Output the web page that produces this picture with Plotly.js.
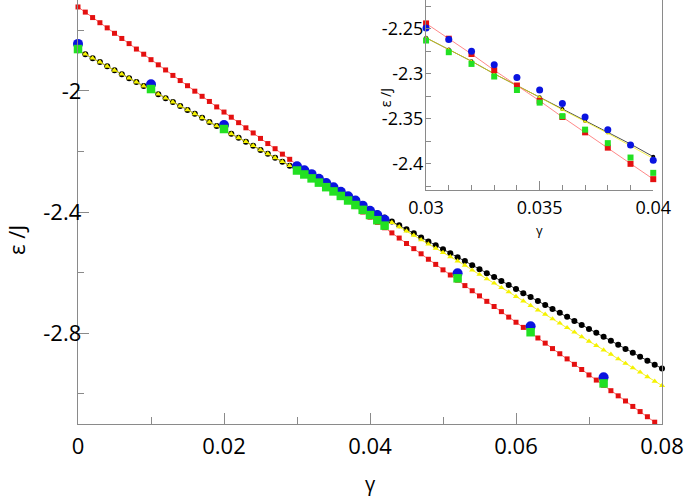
<!DOCTYPE html>
<html>
<head>
<meta charset="utf-8">
<script src="https://cdn.plot.ly/plotly-3.0.1.min.js"></script>
<style>
  html, body { margin: 0; padding: 0; background: #fff; }
  #graph { width: 685px; height: 496px; }
</style>
</head>
<body>
<div id="graph"></div>
<script>
// gamma grid of the curves (0 .. 0.08, step 0.001)
const gamma = [
  0, 0.001, 0.002, 0.003, 0.004, 0.005, 0.006, 0.007, 0.008, 0.009,
  0.010, 0.011, 0.012, 0.013, 0.014, 0.015, 0.016, 0.017, 0.018, 0.019,
  0.020, 0.021, 0.022, 0.023, 0.024, 0.025, 0.026, 0.027, 0.028, 0.029,
  0.030, 0.031, 0.032, 0.033, 0.034, 0.035, 0.036, 0.037, 0.038, 0.039,
  0.040, 0.041, 0.042, 0.043, 0.044, 0.045, 0.046, 0.047, 0.048, 0.049,
  0.050, 0.051, 0.052, 0.053, 0.054, 0.055, 0.056, 0.057, 0.058, 0.059,
  0.060, 0.061, 0.062, 0.063, 0.064, 0.065, 0.066, 0.067, 0.068, 0.069,
  0.070, 0.071, 0.072, 0.073, 0.074, 0.075, 0.076, 0.077, 0.078, 0.079,
  0.080
];

// red squares (0 .. 0.079)
const redE = [
  -1.723, -1.740, -1.758, -1.775, -1.792, -1.810, -1.827, -1.844, -1.862, -1.879,
  -1.897, -1.914, -1.931, -1.949, -1.966, -1.983, -2.001, -2.018, -2.035, -2.053,
  -2.070, -2.087, -2.105, -2.122, -2.139, -2.157, -2.174, -2.191, -2.209, -2.226,
  -2.244, -2.261, -2.278, -2.296, -2.313, -2.330, -2.348, -2.365, -2.382, -2.400,
  -2.417, -2.434, -2.452, -2.469, -2.486, -2.504, -2.521, -2.538, -2.556, -2.573,
  -2.591, -2.608, -2.625, -2.643, -2.660, -2.677, -2.695, -2.712, -2.729, -2.747,
  -2.764, -2.781, -2.799, -2.816, -2.833, -2.851, -2.868, -2.885, -2.903, -2.920,
  -2.938, -2.955, -2.972, -2.990, -3.007, -3.024, -3.042, -3.059, -3.076, -3.094
];

// black circles
const blackE = [
  -1.866, -1.879, -1.892, -1.905, -1.919, -1.932, -1.945, -1.958, -1.971, -1.984,
  -1.997, -2.011, -2.024, -2.037, -2.050, -2.063, -2.076, -2.089, -2.103, -2.116,
  -2.129, -2.142, -2.155, -2.168, -2.181, -2.195, -2.208, -2.221, -2.234, -2.247,
  -2.260, -2.273, -2.286, -2.300, -2.313, -2.326, -2.339, -2.352, -2.365, -2.378,
  -2.392, -2.405, -2.418, -2.431, -2.444, -2.457, -2.470, -2.484, -2.497, -2.510,
  -2.523, -2.536, -2.549, -2.562, -2.576, -2.589, -2.602, -2.615, -2.628, -2.641,
  -2.654, -2.668, -2.681, -2.694, -2.707, -2.720, -2.733, -2.746, -2.760, -2.773,
  -2.786, -2.799, -2.812, -2.825, -2.838, -2.852, -2.865, -2.878, -2.891, -2.904,
  -2.917
];

// yellow triangles
const yellowE = [
  -1.866, -1.879, -1.892, -1.905, -1.919, -1.932, -1.945, -1.958, -1.971, -1.984,
  -1.997, -2.011, -2.024, -2.037, -2.050, -2.063, -2.076, -2.089, -2.103, -2.116,
  -2.129, -2.142, -2.155, -2.168, -2.181, -2.195, -2.208, -2.221, -2.234, -2.247,
  -2.260, -2.273, -2.286, -2.300, -2.313, -2.326, -2.340, -2.353, -2.366, -2.380,
  -2.394, -2.407, -2.421, -2.435, -2.449, -2.463, -2.477, -2.492, -2.506, -2.520,
  -2.534, -2.548, -2.562, -2.576, -2.592, -2.606, -2.621, -2.635, -2.650, -2.664,
  -2.679, -2.694, -2.709, -2.724, -2.738, -2.753, -2.767, -2.782, -2.797, -2.812,
  -2.827, -2.841, -2.856, -2.870, -2.885, -2.900, -2.915, -2.929, -2.944, -2.959,
  -2.973
];

// blue circles and green squares
const gammaPts = [0, 0.01, 0.02, 0.030, 0.031, 0.032, 0.033, 0.034, 0.035, 0.036,
  0.037, 0.038, 0.039, 0.040, 0.041, 0.042, 0.052, 0.062, 0.072];
const blueE = [-1.845, -1.978, -2.113, -2.249, -2.262, -2.275, -2.290, -2.304, -2.318, -2.333,
  -2.348, -2.362, -2.379, -2.396, -2.410, -2.426, -2.602, -2.777, -2.946];
const greenE = [-1.862, -1.994, -2.126, -2.263, -2.276, -2.289, -2.303, -2.318, -2.332, -2.347,
  -2.362, -2.377, -2.393, -2.410, -2.427, -2.445, -2.619, -2.797, -2.966];

// tick labels
const mainXTicks = [0, 0.02, 0.04, 0.06, 0.08];
const mainXText = ['0', '0.02', '0.04', '0.06', '0.08'];
const mainYTicks = [-2, -2.4, -2.8];
const mainYText = ['-2', '-2.4', '-2.8'];
const insetXTicks = [0.03, 0.035, 0.04];
const insetXText = ['0.03', '0.035', '0.04'];
const insetYTicks = [-2.25, -2.3, -2.35, -2.4];
const insetYText = ['-2.25', '-2.3', '-2.35', '-2.4'];

const FONT = 'Open Sans, sans-serif';
const AXC = '#8a8a8a';

const redX = gamma.slice(0, redE.length);

// inset window
const inWin = (xs, ys) => {
  const ox = [], oy = [];
  xs.forEach((v, i) => { if (v >= 0.0299 && v <= 0.0401) { ox.push(v); oy.push(ys[i]); } });
  return { x: ox, y: oy };
};

const main = [
  { x: redX, y: redE, mode: 'lines+markers', line: { color: '#ff6a6a', width: 1 },
    marker: { symbol: 'square', size: 5, color: '#e41010' } },
  { x: gamma, y: blackE, mode: 'lines+markers', line: { color: '#000', width: 0.8 },
    marker: { symbol: 'circle', size: 6, color: '#000' } },
  { x: gamma, y: yellowE, mode: 'lines+markers', line: { color: '#f2ee00', width: 0.8 },
    marker: { symbol: 'triangle-up', size: 5.5, color: '#f5f200' } },
  { x: gammaPts, y: blueE, mode: 'markers', marker: { symbol: 'circle', size: 10, color: '#0a14e0' } },
  { x: gammaPts, y: greenE, mode: 'markers', marker: { symbol: 'square', size: 8.5, color: '#22e022' } }
].map(t => Object.assign(t, { type: 'scatter', cliponaxis: false, showlegend: false, hoverinfo: 'skip' }));

const r2 = inWin(redX, redE), k2 = inWin(gamma, blackE), y2 = inWin(gamma, yellowE);
const b2 = inWin(gammaPts, blueE), g2 = inWin(gammaPts, greenE);

const inset = [
  { x: k2.x, y: k2.y, mode: 'lines+markers', line: { color: '#000', width: 0.7 },
    marker: { symbol: 'circle', size: 4, color: '#000' } },
  { x: y2.x, y: y2.y, mode: 'lines+markers', line: { color: '#f2ee00', width: 0.7 },
    marker: { symbol: 'triangle-up', size: 4, color: '#f5f200' } },
  { x: r2.x, y: r2.y, mode: 'lines+markers', line: { color: '#ff6a6a', width: 0.8 },
    marker: { symbol: 'square', size: 6, color: '#e41010' } },
  { x: b2.x, y: b2.y, mode: 'markers', marker: { symbol: 'circle', size: 7, color: '#0a14e0' } },
  { x: g2.x, y: g2.y, mode: 'markers', marker: { symbol: 'square', size: 6, color: '#22e022' } }
].map(t => Object.assign(t, { type: 'scatter', xaxis: 'x2', yaxis: 'y2', cliponaxis: false,
  showlegend: false, hoverinfo: 'skip' }));

const layout = {
  width: 685, height: 496,
  margin: { l: 78, r: 23, t: 0, b: 72 },
  paper_bgcolor: '#fff', plot_bgcolor: '#fff',
  font: { family: FONT, color: '#000' },
  xaxis: {
    range: [0, 0.08], showgrid: false, zeroline: false,
    showline: true, linecolor: AXC, linewidth: 1.3, mirror: true,
    ticks: 'inside', ticklen: 11, tickcolor: AXC, tickwidth: 1,
    tickmode: 'array', tickvals: mainXTicks, ticktext: mainXText,
    tickfont: { size: 22 }, ticklabelposition: 'outside', ticklabelstandoff: 2,
    minor: { dtick: 0.01, ticks: 'inside', ticklen: 7, tickcolor: AXC, showgrid: false }
  },
  yaxis: {
    range: [-3.1, -1.7], showgrid: false, zeroline: false,
    showline: true, linecolor: AXC, linewidth: 1.3, mirror: true,
    ticks: 'inside', ticklen: 11, tickcolor: AXC, tickwidth: 1,
    tickmode: 'array', tickvals: mainYTicks, ticktext: mainYText,
    tickfont: { size: 22 }, ticklabelposition: 'outside', ticklabelstandoff: -9,
    minor: { dtick: 0.2, tick0: -2, ticks: 'inside', ticklen: 6, tickcolor: AXC, showgrid: false }
  },
  xaxis2: {
    domain: [0.596, 0.985], anchor: 'y2', range: [0.03, 0.04],
    showgrid: false, zeroline: false, showline: true, linecolor: AXC, linewidth: 1.2,
    ticks: 'inside', ticklen: 9, tickcolor: AXC,
    tickmode: 'array', tickvals: insetXTicks, ticktext: insetXText,
    tickfont: { size: 18 }, ticklabelstandoff: 1,
    minor: { dtick: 0.001, tick0: 0.03, ticks: 'inside', ticklen: 5, tickcolor: AXC, showgrid: false }
  },
  yaxis2: {
    domain: [0.552, 1], anchor: 'x2', range: [-2.429, -2.218],
    showgrid: false, zeroline: false, showline: true, linecolor: AXC, linewidth: 1.2,
    ticks: 'inside', ticklen: 5, tickcolor: AXC,
    tickmode: 'array', tickvals: insetYTicks, ticktext: insetYText,
    tickfont: { size: 18 }, ticklabelstandoff: -2,
    minor: { dtick: 0.025, tick0: -2.25, ticks: 'inside', ticklen: 5, tickcolor: AXC, showgrid: false }
  },
  annotations: [
    { text: 'γ', xref: 'paper', yref: 'paper', x: 0.5, y: -0.141, showarrow: false,
      font: { size: 20 }, xanchor: 'center', yanchor: 'middle' },
    { text: 'ε /J', xref: 'paper', yref: 'paper', x: -0.106, y: 0.434, showarrow: false,
      font: { size: 22 }, textangle: -90, xanchor: 'center', yanchor: 'middle' },
    { text: 'γ', xref: 'paper', yref: 'paper', x: 0.79, y: 0.457, showarrow: false,
      font: { size: 13 }, xanchor: 'center', yanchor: 'middle' },
    { text: 'ε /J', xref: 'paper', yref: 'paper', x: 0.527, y: 0.77, showarrow: false,
      font: { size: 14 }, textangle: -90, xanchor: 'center', yanchor: 'middle' }
  ]
};

Plotly.newPlot('graph', main.concat(inset), layout, { staticPlot: true });
</script>
</body>
</html>
